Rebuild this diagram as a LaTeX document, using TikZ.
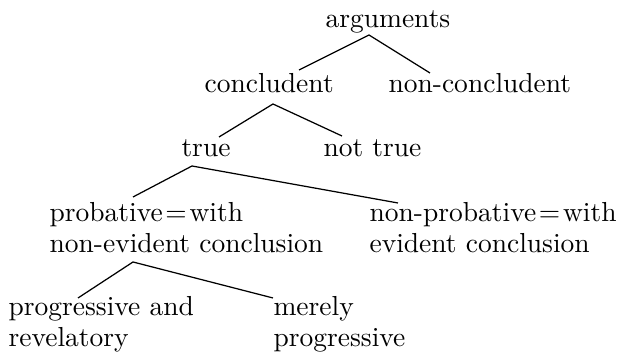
\documentclass[tikz,border=0pt]{standalone}
\usepackage{tikz}
\usetikzlibrary{calc}

\begin{document}
\begin{tikzpicture}[
  x=0.3636pt, y=-0.3636pt,
  font=\fontsize{10}{11.4}\selectfont,
  lbl/.style={inner sep=0pt, anchor=base west, align=left},
  branch/.style={line width=0.45pt}
]
\useasboundingbox (0,0) rectangle (618,354);
% labels (multi-line ones sit on the baseline of their last line)
\node[lbl] (args)    at (325,28)  {arguments};
\node[lbl] (conc)    at (204,93)  {concludent};
\node[lbl] (nonconc) at (388,93)  {non-concludent};
\node[lbl] (true)    at (181,157) {true};
\node[lbl] (nottrue) at (323,157) {not true};
\node[lbl] (prob)    at (49,253)  {probative\kern1pt=\kern1pt with\\non-evident conclusion};
\node[lbl] (nonprob) at (369,253) {non-probative\kern1pt=\kern1pt with\\evident conclusion};
\node[lbl] (progrev) at (8,347)   {progressive and\\revelatory};
\node[lbl] (merely)  at (273,347) {merely\\progressive};
% branches
\draw[branch] ($(conc.base west)+(95,-23)$) -- ($(args.base west)+(44,7)$) -- ($(nonconc.base west)+(42,-20)$);
\draw[branch] ($(true.base west)+(38,-20)$) -- ($(conc.base west)+(69,11)$) -- ($(nottrue.base west)+(19,-21)$);
\draw[branch] ($(prob.base west)+(84,-56)$) -- ($(true.base west)+(11,9)$) -- ($(nonprob.base west)+(29,-50)$);
\draw[branch] ($(progrev.base west)+(70,-49)$) -- ($(prob.base west)+(84,9)$) -- ($(merely.base west)+(0,-49)$);
\end{tikzpicture}
\end{document}
